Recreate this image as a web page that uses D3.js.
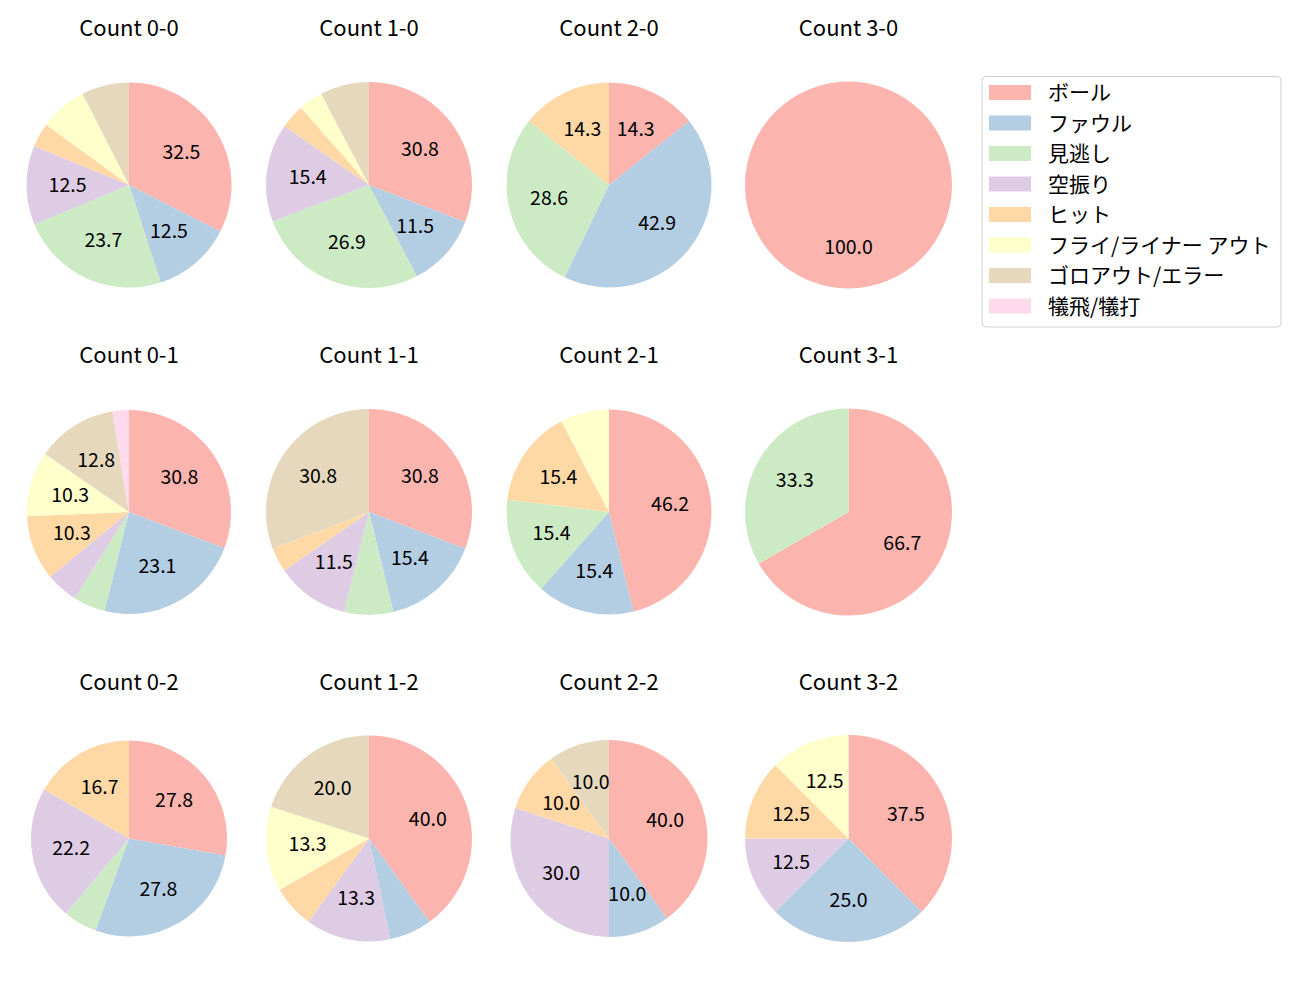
<!DOCTYPE html>
<html><head><meta charset="utf-8">
<script src="https://cdn.jsdelivr.net/npm/d3@7"></script>
<style>body{margin:0;background:#fff}svg{display:block}text{font-family:"Noto Sans CJK JP","Noto Sans",sans-serif}</style>
</head><body>
<script>
const categories = ["ボール","ファウル","見逃し","空振り","ヒット","フライ/ライナー アウト","ゴロアウト/エラー","犠飛/犠打"];
const colors = ["#fbb4ae","#b3cde3","#ccebc5","#decbe4","#fed9a6","#ffffcc","#e5d8bd","#fddaec"];
const titles = ["Count 0-0","Count 1-0","Count 2-0","Count 3-0","Count 0-1","Count 1-1","Count 2-1","Count 3-1","Count 0-2","Count 1-2","Count 2-2","Count 3-2"];
// percentage per category (order as categories)
const count00 = [32.5,12.5,23.7,12.5,3.8,7.5,7.5,0];
const count10 = [30.8,11.5,26.9,15.4,3.8,3.8,7.7,0];
const count20 = [14.3,42.9,28.6,0,14.3,0,0,0];
const count30 = [100.0,0,0,0,0,0,0,0];
const count01 = [30.8,23.1,5.1,5.1,10.3,10.3,12.8,2.6];
const count11 = [30.8,15.4,7.7,11.5,3.8,0,30.8,0];
const count21 = [46.2,15.4,15.4,0,15.4,7.7,0,0];
const count31 = [66.7,0,33.3,0,0,0,0,0];
const count02 = [27.8,27.8,5.6,22.2,16.7,0,0,0];
const count12 = [40.0,6.7,0,13.3,6.7,13.3,20.0,0];
const count22 = [40.0,10.0,0,30.0,10.0,0,10.0,0];
const count32 = [37.5,25.0,0,12.5,12.5,12.5,0,0];
const panels = [count00,count10,count20,count30,count01,count11,count21,count31,count02,count12,count22,count32];

const W=1300,H=1000;
const svg=d3.select("body").append("svg").attr("width",W).attr("height",H);
const colX=[129,369,609,848.5], rowY=[185,512,838.5];
const radii=[102.5,103,102.5,103.5,102,103,102.5,103.5,98,103,98.5,103.5];
const color=d3.scaleOrdinal().domain(categories).range(colors);
const pie=d3.pie().sort(null).value(d=>d.v);

panels.forEach((vals,i)=>{
  const cx=colX[i%4], cy=rowY[Math.floor(i/4)], r=radii[i];
  const data=vals.map((v,k)=>({v,k})).filter(d=>d.v>0);
  const g=svg.append("g").attr("transform",`translate(${cx},${cy})`);
  const arc=d3.arc().innerRadius(0).outerRadius(r);
  const arcs=pie(data);
  g.selectAll("path").data(arcs).join("path").attr("d",arc).attr("fill",d=>color(categories[d.data.k]));
  const lab=d3.arc().innerRadius(r*0.6).outerRadius(r*0.6);
  g.selectAll("text").data(arcs.filter(d=>d.data.v>=9.5)).join("text")
    .attr("transform",d=>`translate(${lab.centroid(d)})`)
    .attr("text-anchor","middle").attr("dominant-baseline","central").attr("dy",-2)
    .attr("font-size",19.5).attr("fill","#000")
    .text(d=>d.data.v.toFixed(1));
  svg.append("text").attr("x",cx).attr("y",rowY[Math.floor(i/4)]-159)
    .attr("text-anchor","middle").attr("dominant-baseline","central").attr("font-size",22).text(titles[i]);
});

// legend
const lg=svg.append("g");
lg.append("rect").attr("x",982).attr("y",76.5).attr("width",299).attr("height",250.5).attr("rx",4)
  .attr("fill","#fff").attr("stroke","#d0d0d0").attr("stroke-width",1);
const ly=d3.scaleLinear().domain([0,7]).range([92.5,306]);
categories.forEach((c,k)=>{
  lg.append("rect").attr("x",989).attr("y",ly(k)-7.5).attr("width",42).attr("height",15).attr("fill",color(c));
  lg.append("text").attr("x",1048).attr("y",ly(k)).attr("dy",-1.5).attr("dominant-baseline","central").attr("font-size",21).text(c);
});
</script>
</body></html>
